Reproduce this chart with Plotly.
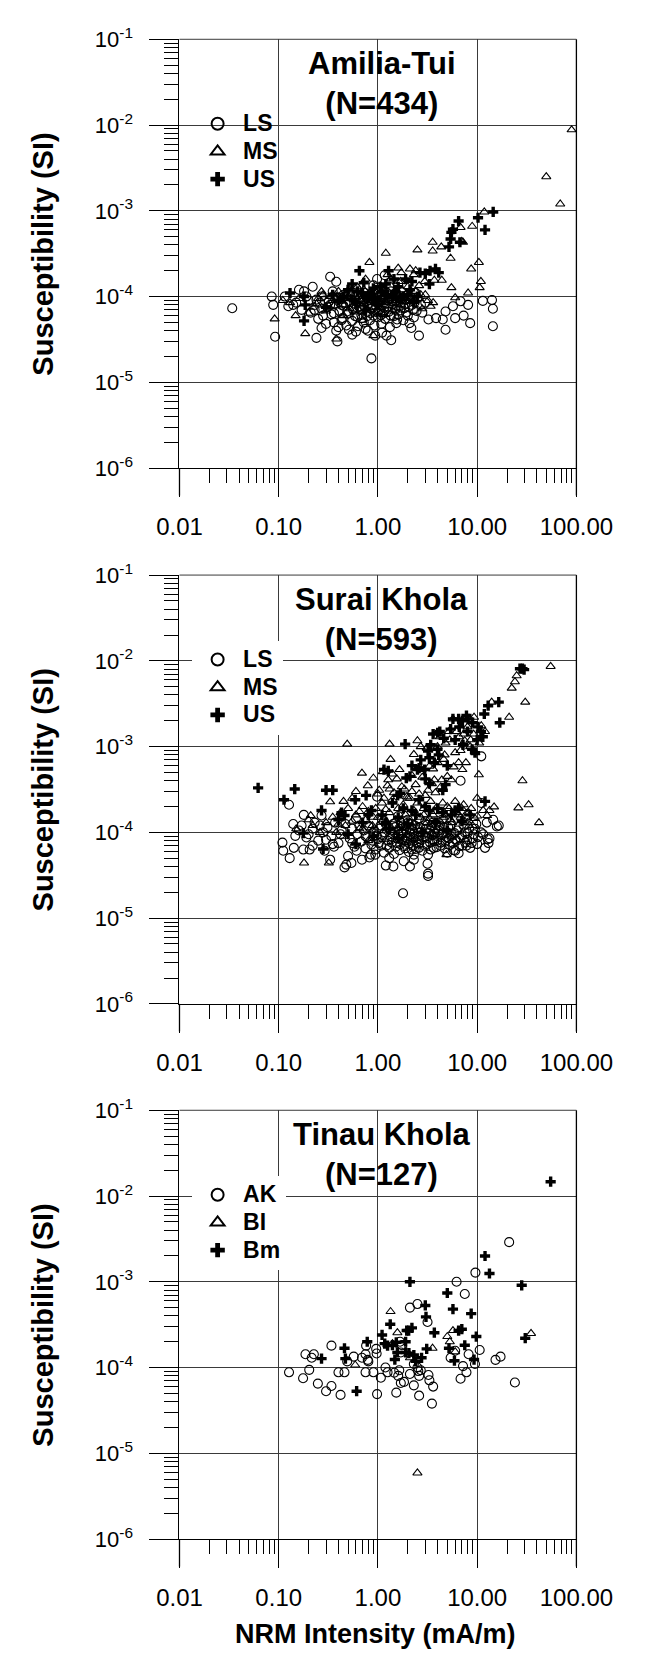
import plotly.graph_objects as go

# ---------------- data ----------------
# Panel 1: Amilia-Tui
amilia_ls_x = [0.034, 0.085, 0.088, 0.092, 0.115, 0.125, 0.14, 0.16, 0.18, 0.19, 0.22, 0.24, 0.27, 0.33, 0.38, 0.39, 0.35, 0.32, 0.46, 0.51,
               0.60, 0.79, 0.86, 0.94, 0.98, 1.17, 1.22, 1.36, 1.53, 2.08, 2.17, 2.59, 2.71, 3.23, 3.85, 4.5, 4.8, 4.8, 5.7, 6.0,
               6.8, 7.3, 8.1, 8.5, 11.4, 14.1, 14.4, 14.4, 2.5, 1.75,
               0.21, 0.23, 0.25, 0.26, 0.28, 0.29, 0.30, 0.31, 0.34, 0.36, 0.37, 0.40, 0.41, 0.42, 0.44, 0.45, 0.48, 0.50, 0.52, 0.55,
               0.56, 0.58, 0.62, 0.63, 0.65, 0.68, 0.70, 0.72, 0.74, 0.77, 0.80, 0.83, 0.85, 0.88, 0.90, 0.92, 0.95, 0.97, 1.00, 1.02,
               1.05, 1.08, 1.10, 1.12, 1.15, 1.18, 1.25, 1.28, 1.32, 1.40, 1.45, 1.50, 1.58, 1.62, 1.70, 1.80, 1.85, 1.95, 2.0, 2.2,
               2.3, 2.4, 1.3, 0.6, 0.45, 0.75, 1.1, 0.55, 0.38, 3.0, 2.8, 1.6, 0.9, 0.27, 0.17, 0.2, 0.15]
amilia_ls_y = [7.3e-5, 1.0e-4, 8.0e-5, 3.4e-5, 1.0e-4, 7.7e-5, 8.0e-5, 1.2e-4, 1.15e-4, 1.0e-4, 1.3e-4, 3.3e-5, 4.3e-5, 1.7e-4, 1.49e-4, 3.0e-5, 1.15e-4, 8.8e-5, 1.0e-4, 4.1e-5,
               3.9e-5, 4.0e-5, 1.9e-5, 3.5e-5, 1.6e-4, 1.77e-4, 3.5e-5, 3.1e-5, 4.9e-5, 4.9e-5, 4.3e-5, 3.5e-5, 8.0e-5, 5.4e-5, 5.6e-5, 5.4e-5, 4.1e-5, 6.7e-5, 7.7e-5, 5.6e-5,
               8.8e-5, 6.0e-5, 8.0e-5, 4.9e-5, 8.9e-5, 9.1e-5, 7.2e-5, 4.5e-5, 9.6e-5, 9.6e-5,
               6.5e-5, 7.0e-5, 5.5e-5, 8.5e-5, 6.0e-5, 9.0e-5, 4.8e-5, 7.5e-5, 6.2e-5, 5.0e-5, 8.2e-5, 4.4e-5, 6.8e-5, 9.5e-5, 5.6e-5, 7.8e-5, 4.6e-5, 6.3e-5, 8.6e-5, 5.2e-5,
               7.1e-5, 9.8e-5, 5.8e-5, 4.5e-5, 7.6e-5, 6.1e-5, 8.9e-5, 5.0e-5, 1.1e-4, 6.6e-5, 8.3e-5, 5.3e-5, 7.2e-5, 9.3e-5, 6.0e-5, 4.6e-5, 7.9e-5, 1.2e-4, 5.7e-5, 6.9e-5,
               8.7e-5, 4.8e-5, 1.05e-4, 6.3e-5, 7.4e-5, 5.5e-5, 9.0e-5, 6.6e-5, 4.4e-5, 8.1e-5, 5.9e-5, 7.0e-5, 1.0e-4, 6.2e-5, 8.5e-5, 5.3e-5, 7.3e-5, 9.2e-5, 6.0e-5, 8.0e-5,
               5.7e-5, 1.1e-4, 1.3e-4, 1.25e-4, 1.05e-4, 4.2e-5, 3.8e-5, 3.6e-5, 4.0e-5, 8.5e-5, 6.5e-5, 1.4e-4, 1.35e-4, 1.0e-4, 7.0e-5, 9.0e-5, 8.5e-5]
amilia_ls_more = [(0.24, 9.2e-5), (0.27, 7.2e-5), (0.33, 8.0e-5), (0.36, 6.4e-5), (0.39, 9.8e-5), (0.43, 5.3e-5), (0.47, 8.4e-5), (0.49, 6.7e-5),
                  (0.53, 1.0e-4), (0.57, 7.4e-5), (0.59, 5.9e-5), (0.61, 8.8e-5), (0.64, 1.05e-4), (0.67, 7.0e-5), (0.69, 5.6e-5), (0.71, 9.4e-5),
                  (0.73, 7.7e-5), (0.76, 1.0e-4), (0.78, 5.9e-5), (0.81, 9.1e-5), (0.84, 6.4e-5), (0.87, 8.0e-5), (0.89, 1.07e-4), (0.93, 7.0e-5),
                  (0.96, 9.0e-5), (0.99, 6.5e-5), (1.01, 8.4e-5), (1.04, 9.9e-5), (1.07, 6.1e-5), (1.09, 7.9e-5), (1.13, 9.6e-5), (1.16, 6.8e-5),
                  (1.20, 8.3e-5), (1.23, 1.1e-4), (1.27, 7.6e-5), (1.30, 9.4e-5), (1.34, 6.0e-5), (1.38, 8.8e-5), (1.42, 1.0e-4), (1.48, 7.2e-5),
                  (1.52, 8.9e-5), (1.56, 5.4e-5), (1.65, 9.7e-5), (1.72, 7.4e-5), (1.78, 9.4e-5), (1.88, 8.2e-5), (1.92, 6.5e-5), (2.05, 7.6e-5),
                  (2.12, 9.9e-5), (2.25, 7.0e-5), (2.35, 8.6e-5), (2.45, 6.8e-5), (0.52, 1.15e-4), (0.66, 9.6e-5), (0.82, 1.0e-4), (1.06, 9.1e-5),
                  (1.35, 1.15e-4), (1.68, 6.9e-5), (0.43, 8.0e-5), (0.70, 7.3e-5)]

amilia_ms_x = [0.091, 0.148, 0.185, 0.2, 0.27, 0.38, 0.82, 0.75, 0.9, 1.2, 1.25, 1.35, 1.6, 1.68, 1.72, 2.1, 2.3, 2.4, 2.5, 2.6,
               2.96, 3.4, 3.56, 3.56, 3.7, 4.35, 4.4, 5.4, 5.5, 6.0, 6.8, 7.0, 7.2, 8.1, 8.7, 8.9, 10.4, 10.6, 10.9, 11.8,
               49.7, 68.7, 89.5,
               0.11, 0.13, 0.22, 0.25, 0.3, 0.33, 0.36, 0.42, 0.48, 0.52, 0.57, 0.62, 0.66, 0.7, 0.78, 0.85, 0.93, 1.0, 1.05, 1.15,
               1.3, 1.45, 1.55, 1.75, 1.9, 2.0, 2.2, 2.7, 3.2, 0.45, 0.95, 1.4, 0.7]
amilia_ms_y = [5.5e-5, 6.0e-5, 3.7e-5, 6.4e-5, 1.14e-4, 3.2e-5, 2.5e-4, 1.6e-4, 3.5e-5, 3.2e-4, 1.8e-4, 1.6e-4, 2.15e-4, 1.5e-4, 1.9e-4, 2.1e-4, 1.8e-4, 2.0e-4, 3.5e-4, 1.34e-4,
               1.5e-4, 7.7e-5, 4.3e-4, 3.4e-4, 1.55e-4, 3.8e-4, 1.55e-4, 2.8e-4, 1.27e-4, 9.7e-5, 6.4e-4, 4.4e-4, 4.3e-4, 1.1e-4, 2.1e-4, 6.6e-4, 2.5e-4, 1.27e-4, 1.5e-4, 9.7e-4,
               2.5e-3, 1.2e-3, 8.8e-3,
               9.0e-5, 8.5e-5, 7.5e-5, 9.5e-5, 6.8e-5, 1.0e-4, 7.8e-5, 8.8e-5, 1.1e-4, 7.2e-5, 9.2e-5, 1.3e-4, 8.0e-5, 1.0e-4, 7.0e-5, 1.15e-4, 8.6e-5, 1.05e-4, 7.6e-5, 1.25e-4,
               9.4e-5, 1.1e-4, 8.2e-5, 1.2e-4, 9.8e-5, 1.3e-4, 8.8e-5, 1.05e-4, 9.0e-5, 6.0e-5, 6.4e-5, 6.8e-5, 5.3e-5]
amilia_ms_more = [(0.16, 9.5e-5), (0.24, 8.2e-5), (0.28, 1.05e-4), (0.35, 9.0e-5), (0.40, 1.15e-4), (0.46, 8.0e-5), (0.50, 9.6e-5), (0.55, 1.2e-4),
                  (0.60, 7.8e-5), (0.64, 1.0e-4), (0.68, 8.8e-5), (0.72, 1.2e-4), (0.76, 9.3e-5), (0.80, 1.05e-4), (0.88, 9.0e-5), (0.97, 1.1e-4),
                  (1.02, 9.2e-5), (1.10, 1.0e-4), (1.20, 8.6e-5), (1.26, 1.15e-4), (1.35, 1.0e-4), (1.50, 9.0e-5), (1.65, 1.05e-4), (1.80, 8.8e-5),
                  (1.95, 1.1e-4), (2.10, 9.6e-5), (2.40, 1.15e-4), (2.60, 9.5e-5), (3.00, 1.05e-4), (3.60, 8.5e-5), (0.58, 6.6e-5), (1.15, 6.2e-5),
                  (1.60, 7.5e-5), (2.80, 7.2e-5)]

amilia_us_x = [0.13, 0.18, 0.185, 0.18, 0.65, 0.55, 1.28, 1.2, 1.9, 2.65, 3.0, 3.3, 3.35, 3.8, 4.1, 5.2, 5.4, 5.5, 5.7, 6.5,
               6.7, 10.2, 12.0, 14.5, 1.7,
               0.3, 0.4, 0.5, 0.6, 0.7, 0.8, 0.9, 1.0, 1.1, 1.4, 1.6, 2.0, 2.3, 0.35, 0.75]
amilia_us_y = [1.1e-4, 1.0e-4, 8.0e-5, 5.2e-5, 2.0e-4, 1.4e-4, 2.0e-4, 1.4e-4, 1.6e-4, 1.9e-4, 1.85e-4, 1.4e-4, 2.0e-4, 2.1e-4, 1.9e-4, 3.8e-4, 4.7e-4, 5.6e-4, 6.1e-4, 7.6e-4,
               4.3e-4, 8.3e-4, 6.0e-4, 9.7e-4, 9.6e-5,
               7.5e-5, 9.0e-5, 1.2e-4, 8.5e-5, 1.1e-4, 9.5e-5, 1.25e-4, 8.0e-5, 1.15e-4, 1.0e-4, 1.3e-4, 1.05e-4, 8.5e-5, 1.05e-4, 7.0e-5]
amilia_us_more = [(0.45, 1.0e-4), (0.55, 9.2e-5), (0.62, 1.15e-4), (0.85, 1.05e-4), (0.95, 9.0e-5), (1.05, 1.3e-4), (1.25, 1.05e-4),
                  (1.50, 1.15e-4), (1.80, 1.0e-4), (2.10, 1.2e-4), (2.50, 1.0e-4), (2.20, 1.5e-4), (1.45, 1.6e-4), (0.72, 1.45e-4)]

# Panel 2: Surai Khola
surai_ls_x = [0.109, 0.111, 0.129, 0.127, 0.14, 0.142, 0.147, 0.179, 0.177, 0.19, 0.205, 0.22, 0.27, 0.29, 0.33, 0.35, 0.46, 0.48, 0.50, 0.54,
              0.61, 0.69, 0.82, 0.94, 0.98, 1.2, 1.43, 1.79, 1.82, 2.1, 2.3, 3.16, 3.2, 3.2, 6.8, 10, 10.9, 11, 11, 12,
              12.8, 13.3, 14.5, 15.8, 16.5, 6, 7.8,
              0.16, 0.17, 0.2, 0.23, 0.25, 0.28, 0.31, 0.34, 0.37, 0.4, 0.43, 0.47, 0.52, 0.55, 0.58, 0.62, 0.65, 0.68, 0.72, 0.75,
              0.78, 0.82, 0.86, 0.9, 0.95, 1.0, 1.03, 1.08, 1.12, 1.15, 1.2, 1.25, 1.3, 1.35, 1.4, 1.45, 1.5, 1.55, 1.6, 1.65,
              1.7, 1.75, 1.8, 1.85, 1.9, 1.95, 2.0, 2.05, 2.1, 2.15, 2.2, 2.25, 2.3, 2.4, 2.5, 2.55, 2.6, 2.7, 2.8, 2.9,
              3.0, 3.1, 3.3, 3.4, 3.5, 3.6, 3.7, 3.8, 3.9, 4.0, 4.2, 4.3, 4.5, 4.7, 4.9, 5.1, 5.3, 5.5, 5.8, 6.0,
              6.3, 6.6, 7.0, 7.3, 7.6, 8.0, 8.5, 9.0, 9.5, 1.1, 2.6, 4.4, 0.6, 1.6, 3.2, 5.0, 0.85, 1.3, 2.3, 6.5,
              12.5, 11.5, 13.0, 9.8]
surai_ls_y = [7.6e-5, 6.1e-5, 5.0e-5, 2.1e-4, 1.25e-4, 6.6e-5, 9.1e-5, 1.6e-4, 6.3e-5, 8.7e-5, 6.3e-5, 1.1e-4, 1.57e-4, 6.1e-5, 4.8e-5, 7.3e-5, 3.9e-5, 4.2e-5, 5.3e-5, 4.4e-5,
              6.1e-5, 4.8e-5, 5.1e-5, 5.5e-5, 2.6e-4, 4.1e-5, 4.0e-5, 1.95e-5, 4.6e-5, 4.0e-5, 5.5e-5, 4.3e-5, 3.3e-5, 3.1e-5, 4.0e-4, 7.3e-5, 1.0e-4, 2.2e-4, 7.7e-4, 6.6e-5,
              8.3e-5, 8.5e-5, 1.4e-4, 1.17e-4, 1.2e-4, 6.1e-5, 7.0e-5,
              1.05e-4, 1.2e-4, 9.5e-5, 1.3e-4, 8.0e-5, 1.0e-4, 1.15e-4, 9.0e-5, 1.3e-4, 7.5e-5, 1.05e-4, 1.25e-4, 8.5e-5, 1.1e-4, 6.8e-5, 9.5e-5, 1.2e-4, 7.8e-5, 1.05e-4, 6.5e-5,
              8.8e-5, 1.15e-4, 7.2e-5, 9.8e-5, 6.3e-5, 8.3e-5, 1.1e-4, 7.0e-5, 9.3e-5, 5.8e-5, 1.25e-4, 8.0e-5, 6.6e-5, 1.05e-4, 8.8e-5, 5.6e-5, 1.15e-4, 7.5e-5, 9.5e-5, 6.2e-5,
              1.3e-4, 8.4e-5, 1.0e-4, 6.9e-5, 1.18e-4, 7.8e-5, 9.0e-5, 5.9e-5, 1.08e-4, 8.2e-5, 1.25e-4, 7.0e-5, 9.6e-5, 6.4e-5, 1.12e-4, 8.6e-5, 7.4e-5, 1.0e-4, 6.1e-5, 1.2e-4,
              8.9e-5, 7.2e-5, 1.05e-4, 6.3e-5, 9.3e-5, 1.3e-4, 7.9e-5, 1.1e-4, 6.7e-5, 9.0e-5, 1.2e-4, 7.6e-5, 1.0e-4, 6.5e-5, 8.8e-5, 1.15e-4, 7.1e-5, 9.6e-5, 6.2e-5, 8.3e-5,
              1.05e-4, 6.9e-5, 9.2e-5, 1.2e-4, 7.6e-5, 9.8e-5, 6.6e-5, 8.5e-5, 1.1e-4, 1.4e-4, 1.45e-4, 1.4e-4, 1.45e-4, 1.55e-4, 5.5e-5, 5.8e-5, 5.5e-5, 5.0e-5, 4.8e-5, 5.7e-5,
              1.3e-4, 9.5e-5, 7.5e-5, 1.25e-4]
surai_ls_more = [(0.75, 9.0e-5), (0.80, 1.2e-4), (0.88, 8.0e-5), (0.92, 1.05e-4), (0.97, 9.2e-5), (1.02, 7.5e-5), (1.06, 1.2e-4), (1.10, 8.8e-5),
                 (1.17, 1.0e-4), (1.22, 7.0e-5), (1.28, 1.15e-4), (1.33, 9.0e-5), (1.38, 7.6e-5), (1.42, 1.25e-4), (1.48, 1.0e-4), (1.52, 6.8e-5),
                 (1.58, 8.5e-5), (1.63, 1.1e-4), (1.68, 7.3e-5), (1.72, 9.8e-5), (1.78, 1.2e-4), (1.83, 8.0e-5), (1.88, 6.5e-5), (1.93, 1.05e-4),
                 (1.98, 8.6e-5), (2.02, 1.3e-4), (2.08, 7.4e-5), (2.12, 9.5e-5), (2.18, 6.3e-5), (2.22, 1.1e-4), (2.28, 8.5e-5), (2.35, 1.2e-4),
                 (2.45, 7.6e-5), (2.52, 9.9e-5), (2.58, 6.6e-5), (2.65, 1.15e-4), (2.75, 8.2e-5), (2.85, 9.6e-5), (2.95, 7.0e-5), (3.05, 1.1e-4),
                 (3.15, 8.6e-5), (3.25, 9.8e-5), (3.35, 7.6e-5), (3.45, 1.2e-4), (3.55, 8.2e-5), (3.65, 6.6e-5), (3.75, 9.6e-5), (3.85, 1.25e-4),
                 (3.95, 8.0e-5), (4.10, 1.05e-4), (4.25, 7.0e-5), (4.40, 9.3e-5), (4.60, 1.15e-4), (4.80, 7.8e-5), (5.00, 1.0e-4), (5.20, 8.5e-5),
                 (5.40, 1.2e-4), (5.70, 7.5e-5), (5.90, 9.8e-5), (6.20, 8.0e-5), (6.50, 1.15e-4), (6.80, 8.6e-5), (7.10, 7.0e-5), (7.50, 1.0e-4),
                 (7.90, 8.2e-5), (8.30, 1.1e-4), (8.80, 7.5e-5), (9.30, 9.5e-5), (10.2, 8.8e-5), (1.15, 1.35e-4), (2.00, 1.4e-4), (3.00, 1.35e-4),
                 (0.55, 7.5e-5), (0.42, 9.5e-5), (0.36, 6.8e-5), (0.26, 1.2e-4), (0.30, 8.2e-5), (0.22, 7.0e-5)]

surai_ms_x = [0.49, 0.18, 0.21, 0.32, 0.33, 0.45, 0.55, 0.6, 0.69, 0.79, 0.9, 1.03, 1.12, 1.27, 1.31, 1.34, 1.31, 1.4, 1.65, 1.74,
              2.1, 2.3, 2.5, 2.7, 2.75, 3.1, 3.3, 3.5, 3.7, 3.98, 4.2, 4.4, 4.6, 4.8, 4.9, 5.2, 5.5, 5.7, 6.0, 6.5,
              6.6, 7.1, 7.5, 7.8, 8.5, 9.3, 10, 10.4, 11, 12, 12.6, 13.3, 14, 14.8, 21, 22.3, 24, 25, 26, 28.6,
              30.5, 33, 42, 55,
              0.15, 0.2, 0.22, 0.26, 0.3, 0.35, 0.38, 0.42, 0.47, 0.5, 0.55, 0.6, 0.65, 0.7, 0.75, 0.8, 0.88, 0.95, 1.0, 1.1,
              1.2, 1.3, 1.4, 1.5, 1.6, 1.7, 1.8, 1.9, 2.0, 2.1, 2.3, 2.5, 2.7, 2.9, 3.1, 3.4, 3.6, 3.9, 4.2, 4.5,
              4.8, 5.2, 5.6, 6.0, 6.5, 7.0, 7.5, 8.2, 9.0, 10.0, 11.5, 0.8, 1.5, 2.4, 3.5, 5.5, 0.45, 1.0, 2.2, 3.0]
surai_ms_y = [1.07e-3, 4.4e-5, 1.57e-4, 4.4e-5, 2.27e-4, 2.3e-4, 2.5e-4, 3.0e-4, 4.9e-4, 3.5e-4, 4.3e-4, 3.1e-4, 5.1e-4, 4.1e-4, 1.07e-3, 7.1e-4, 3.2e-4, 4.8e-4, 5.4e-4, 3.4e-4,
              2.5e-4, 8.1e-4, 1.17e-3, 1.0e-3, 5.4e-4, 9.6e-4, 5.9e-4, 3.7e-4, 4.1e-4, 1.0e-3, 1.3e-3, 4.1e-4, 7.1e-4, 1.1e-3, 5.5e-5, 1.5e-3, 4.1e-4, 2.1e-3, 8.5e-4, 6.5e-4,
              1.3e-3, 5.4e-4, 1.17e-3, 1.65e-4, 1.0e-3, 2.2e-3, 2.5e-4, 4.7e-4, 1.75e-3, 1.5e-3, 1.57e-4, 1.8e-4, 3.3e-3, 1.98e-4, 2.2e-3, 4.8e-3, 5.7e-3, 6.7e-3, 1.93e-4, 4.0e-4,
              3.3e-3, 2.1e-4, 1.3e-4, 8.6e-3,
              1.1e-4, 1.4e-4, 1.2e-4, 1.0e-4, 1.3e-4, 1.5e-4, 1.0e-4, 1.7e-4, 1.2e-4, 1.9e-4, 1.35e-4, 1.6e-4, 1.1e-4, 2.0e-4, 1.4e-4, 1.75e-4, 1.2e-4, 1.9e-4, 1.5e-4, 2.2e-4,
              1.3e-4, 1.7e-4, 2.4e-4, 1.4e-4, 1.9e-4, 1.2e-4, 2.1e-4, 1.6e-4, 2.5e-4, 1.3e-4, 1.8e-4, 2.2e-4, 1.5e-4, 1.9e-4, 1.3e-4, 2.3e-4, 1.6e-4, 1.95e-4, 1.35e-4, 2.2e-4,
              1.6e-4, 1.9e-4, 1.3e-4, 2.3e-4, 1.6e-4, 1.9e-4, 1.35e-4, 1.7e-4, 1.2e-4, 1.55e-4, 1.8e-4, 8.0e-5, 9.0e-5, 8.5e-5, 9.5e-5, 8.8e-5, 9.0e-5, 2.8e-4, 3.0e-4, 2.7e-4]
surai_ms_more = [(1.15, 2.5e-4), (1.25, 3.5e-4), (1.45, 2.9e-4), (1.55, 4.2e-4), (1.85, 3.2e-4), (1.95, 2.6e-4), (2.20, 4.6e-4), (2.40, 3.6e-4),
                 (2.60, 2.8e-4), (2.80, 4.4e-4), (3.20, 3.1e-4), (3.60, 5.5e-4), (3.80, 2.9e-4), (4.00, 6.5e-4), (4.30, 3.4e-4), (4.70, 8.0e-4),
                 (5.00, 4.5e-4), (5.30, 1.2e-3), (5.80, 5.8e-4), (6.20, 1.5e-3), (6.80, 9.0e-4), (7.30, 1.4e-3), (7.70, 6.5e-4), (8.00, 1.7e-3),
                 (8.60, 1.2e-3), (9.20, 1.4e-3), (9.60, 8.5e-4), (10.5, 1.1e-3), (2.30, 1.25e-4), (2.90, 1.6e-4), (3.30, 1.45e-4), (3.70, 1.75e-4),
                 (4.10, 1.25e-4), (4.60, 1.5e-4), (5.00, 2.0e-4), (5.40, 1.4e-4), (6.20, 1.7e-4), (6.80, 1.5e-4), (7.30, 2.1e-4), (8.00, 1.3e-4),
                 (8.70, 1.9e-4), (9.50, 1.45e-4), (1.60, 1.1e-4), (1.20, 1.85e-4), (0.90, 1.5e-4), (0.65, 1.75e-4), (0.40, 1.25e-4)]

surai_us_x = [0.062, 0.113, 0.145, 0.177, 0.27, 0.28, 0.30, 0.35, 0.43, 0.46, 0.59, 0.6, 0.76, 0.86, 1.15, 1.27, 1.58, 1.68, 1.88, 1.93,
              2.1, 2.5, 2.6, 2.96, 3.2, 3.3, 3.3, 3.6, 4.0, 4.2, 3.98, 4.5, 4.8, 5.7, 6.5, 7.1, 7.8, 8.1, 8.9, 9.5,
              10.2, 10.9, 11.4, 12, 11.8, 12.9, 16.5, 16.9, 27, 28.6, 29.7,
              0.5, 0.7, 0.9, 1.1, 1.3, 1.6, 1.8, 2.0, 2.4, 2.8, 3.3, 3.8, 4.5, 5.0, 6.0, 7.0, 8.5, 0.4, 1.4, 2.6]
surai_us_y = [3.3e-4, 2.4e-4, 3.2e-4, 9.8e-5, 1.8e-4, 6.4e-5, 3.1e-4, 3.1e-4, 1.7e-4, 1.57e-4, 2.4e-4, 7.3e-5, 2.7e-4, 1.8e-4, 5.4e-4, 5.2e-4, 2.7e-4, 2.85e-4, 1.07e-3, 4.3e-4,
              4.5e-4, 5.4e-4, 5.6e-4, 5.4e-4, 8.9e-4, 7.4e-4, 3.7e-4, 1.4e-3, 1.45e-3, 1.5e-3, 9.3e-4, 3.1e-4, 3.6e-4, 2.1e-3, 2.1e-3, 2.0e-3, 2.3e-3, 2.1e-3, 9.3e-4, 8.5e-4,
              1.7e-3, 1.5e-3, 1.3e-3, 2.3e-4, 2.4e-3, 3.0e-3, 3.3e-3, 1.9e-3, 8.1e-3, 8.1e-3, 7.9e-3,
              9.5e-5, 1.3e-4, 9.0e-5, 1.6e-4, 1.1e-4, 8.5e-5, 1.9e-4, 1.25e-4, 1.6e-4, 1.0e-4, 1.8e-4, 1.3e-4, 1.7e-4, 1.05e-4, 1.8e-4, 1.35e-4, 1.6e-4, 1.4e-4, 2.2e-4, 2.4e-4]
surai_us_more = [(2.20, 6.0e-4), (2.70, 7.0e-4), (3.00, 4.2e-4), (3.40, 1.05e-3), (3.70, 6.5e-4), (4.10, 8.0e-4), (4.60, 1.25e-3), (5.00, 6.0e-4),
                 (5.40, 1.6e-3), (6.00, 1.2e-3), (6.60, 1.7e-3), (7.20, 1.05e-3), (8.00, 1.5e-3), (9.00, 1.9e-3), (10.0, 1.2e-3), (1.60, 1.5e-4),
                 (2.20, 1.8e-4), (3.00, 2.0e-4), (4.00, 1.9e-4), (5.50, 1.6e-4), (6.50, 1.9e-4), (1.20, 1.3e-4), (0.80, 1.6e-4)]

# Panel 3: Tinau Khola
tinau_ak_x = [0.127, 0.176, 0.186, 0.203, 0.215, 0.226, 0.248, 0.30, 0.34, 0.34, 0.40, 0.42, 0.46, 0.49, 0.57, 0.69, 0.75, 0.76, 0.79, 0.75,
              0.80, 0.90, 0.96, 0.97, 0.98, 1.07, 1.19, 1.25, 1.46, 1.53, 1.6, 1.67, 1.7, 1.64, 1.7, 1.83, 1.75, 2.1, 2.1, 2.3,
              2.5, 2.5, 2.55, 2.6, 2.6, 2.7, 3.16, 3.23, 3.3, 3.5, 3.6, 2.3, 6.2, 6.8, 7.2, 7.5, 7.8, 8.2, 9.5, 9.6,
              10.6, 15.3, 17.2, 21, 24, 5.4, 6.0]
tinau_ak_y = [8.8e-5, 7.5e-5, 1.43e-4, 9.4e-5, 1.3e-4, 1.43e-4, 6.5e-5, 5.3e-5, 1.8e-4, 6.1e-5, 8.8e-5, 4.8e-5, 8.8e-5, 1.18e-4, 1.34e-4, 1.3e-4, 1.43e-4, 1.8e-4, 1.23e-4, 8.8e-5,
              1.18e-4, 8.8e-5, 1.65e-4, 1.46e-4, 4.9e-5, 7.6e-5, 1.0e-4, 8.8e-5, 8.7e-5, 5.1e-5, 8.0e-5, 2.0e-4, 1.5e-4, 9.3e-5, 6.6e-5, 6.8e-5, 1.82e-4, 8.4e-5, 5.0e-4, 6.2e-5,
              5.5e-4, 1.0e-4, 9.1e-5, 4.7e-5, 8.0e-5, 9.3e-5, 3.4e-4, 8.2e-5, 7.1e-5, 3.8e-5, 6.0e-5, 1.1e-4, 1.0e-3, 7.4e-5, 1.04e-4, 7.2e-4, 8.8e-5, 1.43e-4, 1.1e-4, 1.28e-3,
              1.6e-4, 1.23e-4, 1.34e-4, 2.9e-3, 6.7e-5, 1.3e-4, 1.57e-4]

tinau_bi_x = [0.59, 1.34, 1.57, 1.4, 2.1, 2.5, 3.55, 5.0, 5.3, 5.7, 6.0, 34.9]
tinau_bi_y = [1.07e-4, 4.5e-4, 2.55e-4, 1.9e-4, 1.3e-4, 5.9e-6, 1.68e-4, 2.3e-4, 2.0e-4, 2.7e-4, 1.53e-4, 2.5e-4]

tinau_bm_x = [0.27, 0.46, 0.47, 0.61, 0.78, 1.1, 1.17, 1.25, 1.33, 1.4, 1.53, 1.48, 1.57, 1.9, 1.95, 2.04, 2.1, 1.9, 2.05, 2.2,
              2.3, 2.4, 2.75, 3.0, 3.05, 3.1, 3.7, 5.0, 5.7, 5.2, 5.9, 6.5, 7.0, 7.5, 8.7, 9.8, 12.0, 13.3, 28.1, 30.5,
              55, 9.3]
tinau_bm_y = [1.27e-4, 1.68e-4, 1.27e-4, 5.3e-5, 2.0e-4, 2.4e-4, 1.9e-4, 1.8e-4, 3.2e-4, 1.82e-4, 1.97e-4, 1.24e-4, 1.5e-4, 2.0e-4, 2.7e-4, 2.7e-4, 1.0e-3, 1.5e-4, 1.47e-4, 2.9e-4,
              1.4e-4, 1.18e-4, 1.3e-4, 5.3e-4, 3.9e-4, 1.65e-4, 2.55e-4, 7.4e-4, 4.8e-4, 1.68e-4, 1.2e-4, 2.7e-4, 2.8e-4, 1.82e-4, 4.25e-4, 2.3e-4, 2.0e-3, 1.25e-3, 9.1e-4, 2.2e-4,
              1.47e-2, 1.24e-4]

# axis tick values / labels
x_major = [0.01, 0.1, 1, 10, 100]
x_major_text = ["0.01", "0.10", "1.00", "10.00", "100.00"]
x_minor = [m * 10.0 ** k for k in range(-2, 2) for m in range(2, 10)]
y_major = [1e-6, 1e-5, 1e-4, 1e-3, 1e-2, 1e-1]
y_major_text = ["10<sup>-6</sup>", "10<sup>-5</sup>", "10<sup>-4</sup>", "10<sup>-3</sup>", "10<sup>-2</sup>", "10<sup>-1</sup>"]
y_minor = [m * 10.0 ** k for k in range(-6, -1) for m in range(2, 10)]

panel_titles = ["Amilia-Tui<br>(N=434)", "Surai Khola<br>(N=593)", "Tinau Khola<br>(N=127)"]
legend_names = [["LS", "MS", "US"], ["LS", "MS", "US"], ["AK", "BI", "Bm"]]


def join(xs, ys, more=()):
    return list(xs) + [p[0] for p in more], list(ys) + [p[1] for p in more]


panel_data = [
    [join(amilia_ls_x, amilia_ls_y, amilia_ls_more), join(amilia_ms_x, amilia_ms_y, amilia_ms_more),
     join(amilia_us_x, amilia_us_y, amilia_us_more)],
    [join(surai_ls_x, surai_ls_y, surai_ls_more), join(surai_ms_x, surai_ms_y, surai_ms_more),
     join(surai_us_x, surai_us_y, surai_us_more)],
    [join(tinau_ak_x, tinau_ak_y), join(tinau_bi_x, tinau_bi_y), join(tinau_bm_x, tinau_bm_y)],
]

# ---------------- layout geometry ----------------
W, H = 654, 1663
FONT = "Liberation Sans, Arial, Helvetica, sans-serif"
x_left, x_right = 172.3, 609.3
panel_tops = [23.7, 569.0, 1113.7]
panel_h = 436.4


def px_x(p):
    return p / W


def px_y(p):
    return 1 - p / H


marker_styles = [
    dict(symbol="circle-open", size=9, color="black", line=dict(width=1.1, color="black")),
    dict(symbol="triangle-up-open", size=8, color="black", line=dict(width=1.1, color="black")),
    dict(symbol="cross", size=8.5, color="black", line=dict(width=0)),
]

fig = go.Figure()
annotations = []
shapes = []
layout = dict(
    width=W, height=H,
    margin=dict(l=0, r=0, t=0, b=0),
    paper_bgcolor="white", plot_bgcolor="white",
    font=dict(family=FONT, color="black"),
    showlegend=True,
)

for i in range(3):
    top = panel_tops[i]
    bot = top + panel_h
    xa = "xaxis" if i == 0 else f"xaxis{i+1}"
    ya = "yaxis" if i == 0 else f"yaxis{i+1}"
    xr = "x" if i == 0 else f"x{i+1}"
    yr = "y" if i == 0 else f"y{i+1}"
    lg = "legend" if i == 0 else f"legend{i+1}"

    for j in range(3):
        xs, ys = panel_data[i][j]
        fig.add_trace(go.Scatter(
            x=xs, y=ys, mode="markers",
            name=f'<span style="font-size:23px"><b>{legend_names[i][j]}</b></span>',
            marker=marker_styles[j], xaxis=xr, yaxis=yr, legend=lg,
            hoverinfo="x+y",
        ))

    layout[xa] = dict(
        type="log", range=[-2, 2], domain=[px_x(x_left), px_x(x_right)], anchor=yr,
        tickmode="array", tickvals=x_major, ticktext=x_major_text,
        ticks="outside", ticklen=28, tickwidth=1.3, tickcolor="black",
        showline=True, linecolor="black", linewidth=1.3, mirror=False,
        showgrid=True, gridcolor="#3a3a3a", gridwidth=1, zeroline=False,
        tickfont=dict(size=24, color="black", family=FONT), ticklabelstandoff=9,
        minor=dict(tickmode="array", tickvals=x_minor, ticks="outside", ticklen=14, tickwidth=1.3,
                   tickcolor="black", showgrid=False),
        fixedrange=True,
    )
    layout[ya] = dict(
        type="log", range=[-6, -1], domain=[px_y(bot), px_y(top)], anchor=xr,
        tickmode="array", tickvals=y_major, ticktext=y_major_text,
        ticks="outside", ticklen=29, tickwidth=1.3, tickcolor="black",
        showline=True, linecolor="black", linewidth=1.3, mirror=False,
        showgrid=True, gridcolor="#3a3a3a", gridwidth=1, zeroline=False,
        tickfont=dict(size=22, color="black", family=FONT), ticklabelstandoff=12,
        minor=dict(tickmode="array", tickvals=y_minor, ticks="outside", ticklen=14, tickwidth=1.3,
                   tickcolor="black", showgrid=False),
        fixedrange=True,
    )
    layout[lg] = dict(
        x=px_x(186.2), y=px_y(top + 66.8), xanchor="left", yanchor="top",
        bgcolor="rgba(0,0,0,0)" if i == 0 else "white",
        borderwidth=0, itemsizing="constant", itemwidth=41, tracegroupgap=0,
        font=dict(size=19, family=FONT, color="black"),
    )
    # frame: right edge (with its long tick below the axis) and top edge
    shapes.append(dict(type="line", xref="paper", yref="paper",
                       x0=px_x(x_right), x1=px_x(x_right), y0=px_y(bot + 28), y1=px_y(top),
                       line=dict(color="black", width=1.3)))
    shapes.append(dict(type="line", xref="paper", yref="paper",
                       x0=px_x(x_left), x1=px_x(x_left), y0=px_y(bot + 28), y1=px_y(bot),
                       line=dict(color="black", width=1.3)))
    shapes.append(dict(type="line", xref="paper", yref="paper",
                       x0=px_x(x_left), x1=px_x(x_right), y0=px_y(top), y1=px_y(top),
                       line=dict(color="#3a3a3a", width=1)))
    # panel title
    annotations.append(dict(
        text=f"<b>{panel_titles[i]}</b>", xref="paper", yref="paper",
        x=px_x(395), y=px_y(top + 45), xanchor="center", yanchor="middle",
        showarrow=False, font=dict(size=31, family=FONT, color="black"), align="center",
    ))
    # y-axis title
    annotations.append(dict(
        text="<b>Susceptibility (SI)</b>", xref="paper", yref="paper",
        x=px_x(22), y=px_y(top + panel_h / 2), xanchor="center", yanchor="middle",
        textangle=-90, showarrow=False, font=dict(size=29, family=FONT, color="black"),
    ))

annotations.append(dict(
    text="<b>NRM Intensity (mA/m)</b>", xref="paper", yref="paper",
    x=px_x(388), y=px_y(1647), xanchor="center", yanchor="middle",
    showarrow=False, font=dict(size=27, family=FONT, color="black"),
))
layout["annotations"] = annotations
layout["shapes"] = shapes

fig.update_layout(**layout)
fig.write_html("out.html")
